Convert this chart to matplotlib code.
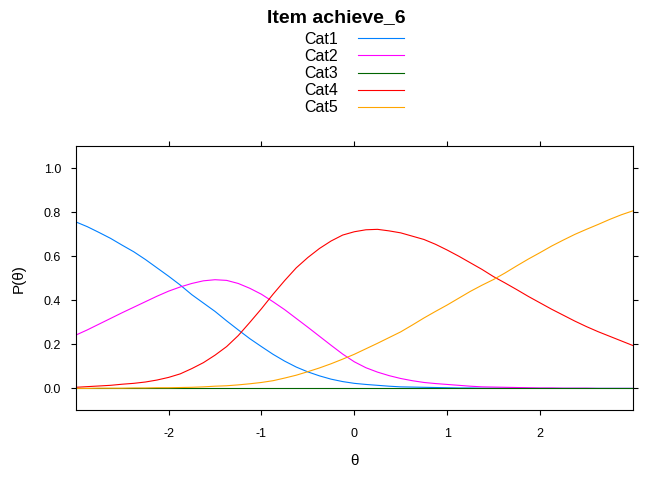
import matplotlib
matplotlib.use("Agg")
import matplotlib.pyplot as plt

plt.rcParams['font.family'] = ['Liberation Sans', 'DejaVu Sans']
plt.rcParams['axes.unicode_minus'] = False

theta = [-3.0, -2.875, -2.75, -2.625, -2.5, -2.375, -2.25, -2.125, -2.0, -1.875, -1.75, -1.625,
         -1.5, -1.375, -1.25, -1.125, -1.0, -0.875, -0.75, -0.625, -0.5, -0.375, -0.25, -0.125,
         0.0, 0.125, 0.25, 0.375, 0.5, 0.625, 0.75, 0.875, 1.0, 1.125, 1.25, 1.375,
         1.5, 1.625, 1.75, 1.875, 2.0, 2.125, 2.25, 2.375, 2.5, 2.625, 2.75, 2.875, 3.0]

cat1 = [0.757, 0.735, 0.709, 0.682, 0.651, 0.621, 0.586, 0.548, 0.510, 0.470, 0.426, 0.388,
        0.350, 0.307, 0.266, 0.226, 0.190, 0.155, 0.124, 0.097, 0.075, 0.057, 0.042, 0.031,
        0.023, 0.018, 0.014, 0.010, 0.007, 0.006, 0.005, 0.004, 0.003, 0.002, 0.002, 0.001,
        0.001, 0.001, 0.001, 0.0, 0.0, 0.0, 0.0, 0.0, 0.0, 0.0, 0.0, 0.0, 0.0]
cat2 = [0.242, 0.266, 0.292, 0.318, 0.344, 0.369, 0.394, 0.419, 0.442, 0.461, 0.477, 0.489,
        0.494, 0.491, 0.477, 0.455, 0.428, 0.394, 0.358, 0.318, 0.278, 0.237, 0.196, 0.156,
        0.121, 0.094, 0.074, 0.058, 0.045, 0.035, 0.027, 0.022, 0.018, 0.014, 0.010, 0.007,
        0.006, 0.005, 0.004, 0.003, 0.002, 0.002, 0.001, 0.001, 0.001, 0.0, 0.0, 0.0, 0.0]
cat3 = [0.0] * 49
cat4 = [0.005, 0.008, 0.011, 0.014, 0.019, 0.023, 0.029, 0.038, 0.050, 0.066, 0.090, 0.117,
        0.151, 0.190, 0.240, 0.300, 0.362, 0.428, 0.490, 0.548, 0.595, 0.636, 0.670, 0.697,
        0.712, 0.721, 0.723, 0.716, 0.707, 0.692, 0.677, 0.655, 0.629, 0.601, 0.571, 0.541,
        0.508, 0.479, 0.449, 0.418, 0.389, 0.360, 0.333, 0.306, 0.281, 0.258, 0.237, 0.216, 0.195]
cat5 = [0.0, 0.0, 0.001, 0.001, 0.001, 0.002, 0.002, 0.003, 0.003, 0.004, 0.005, 0.007,
        0.010, 0.012, 0.016, 0.021, 0.027, 0.035, 0.047, 0.060, 0.076, 0.093, 0.112, 0.133,
        0.155, 0.180, 0.205, 0.231, 0.257, 0.288, 0.320, 0.350, 0.379, 0.410, 0.441, 0.469,
        0.495, 0.525, 0.557, 0.588, 0.617, 0.647, 0.674, 0.700, 0.723, 0.745, 0.768, 0.789, 0.807]

labels = ['Cat1', 'Cat2', 'Cat3', 'Cat4', 'Cat5']
colors = ['#0080ff', '#ff00ff', '#006400', '#ff0000', '#ffa500']

fig = plt.figure(figsize=(6.72, 4.8), dpi=100)
ax = fig.add_axes([0.1127, 0.145, 0.829, 0.55])

for series, lab, col in zip([cat1, cat2, cat3, cat4, cat5], labels, colors):
    ax.plot(theta, series, color=col, lw=0.8, label=lab)

ax.set_xlim(-3, 3)
ax.set_ylim(-0.1, 1.1)
ax.set_xticks([-2, -1, 0, 1, 2])
ax.set_yticks([0.0, 0.2, 0.4, 0.6, 0.8, 1.0])
ax.set_yticklabels(['0.0', '0.2', '0.4', '0.6', '0.8', '1.0'])
ax.tick_params(direction='out', length=3.6, width=0.8, labelsize=9, top=True, right=True,
               labeltop=False, labelright=False)
ax.tick_params(axis='x', pad=9)
ax.tick_params(axis='y', pad=7)
for s in ax.spines.values():
    s.set_linewidth(0.8)

ax.set_xlabel('θ', fontsize=11, labelpad=10)
ax.set_ylabel('P(θ)', fontsize=11, labelpad=13)

fig.suptitle('Item achieve_6', fontsize=14, fontweight='bold', y=0.982)
fig.legend(loc='upper center', bbox_to_anchor=(0.527, 0.95), frameon=False, markerfirst=False,
           fontsize=11.5, handlelength=2.9, handletextpad=1.2, labelspacing=0.13,
           borderpad=0)

fig.savefig('out.png', dpi=100)
